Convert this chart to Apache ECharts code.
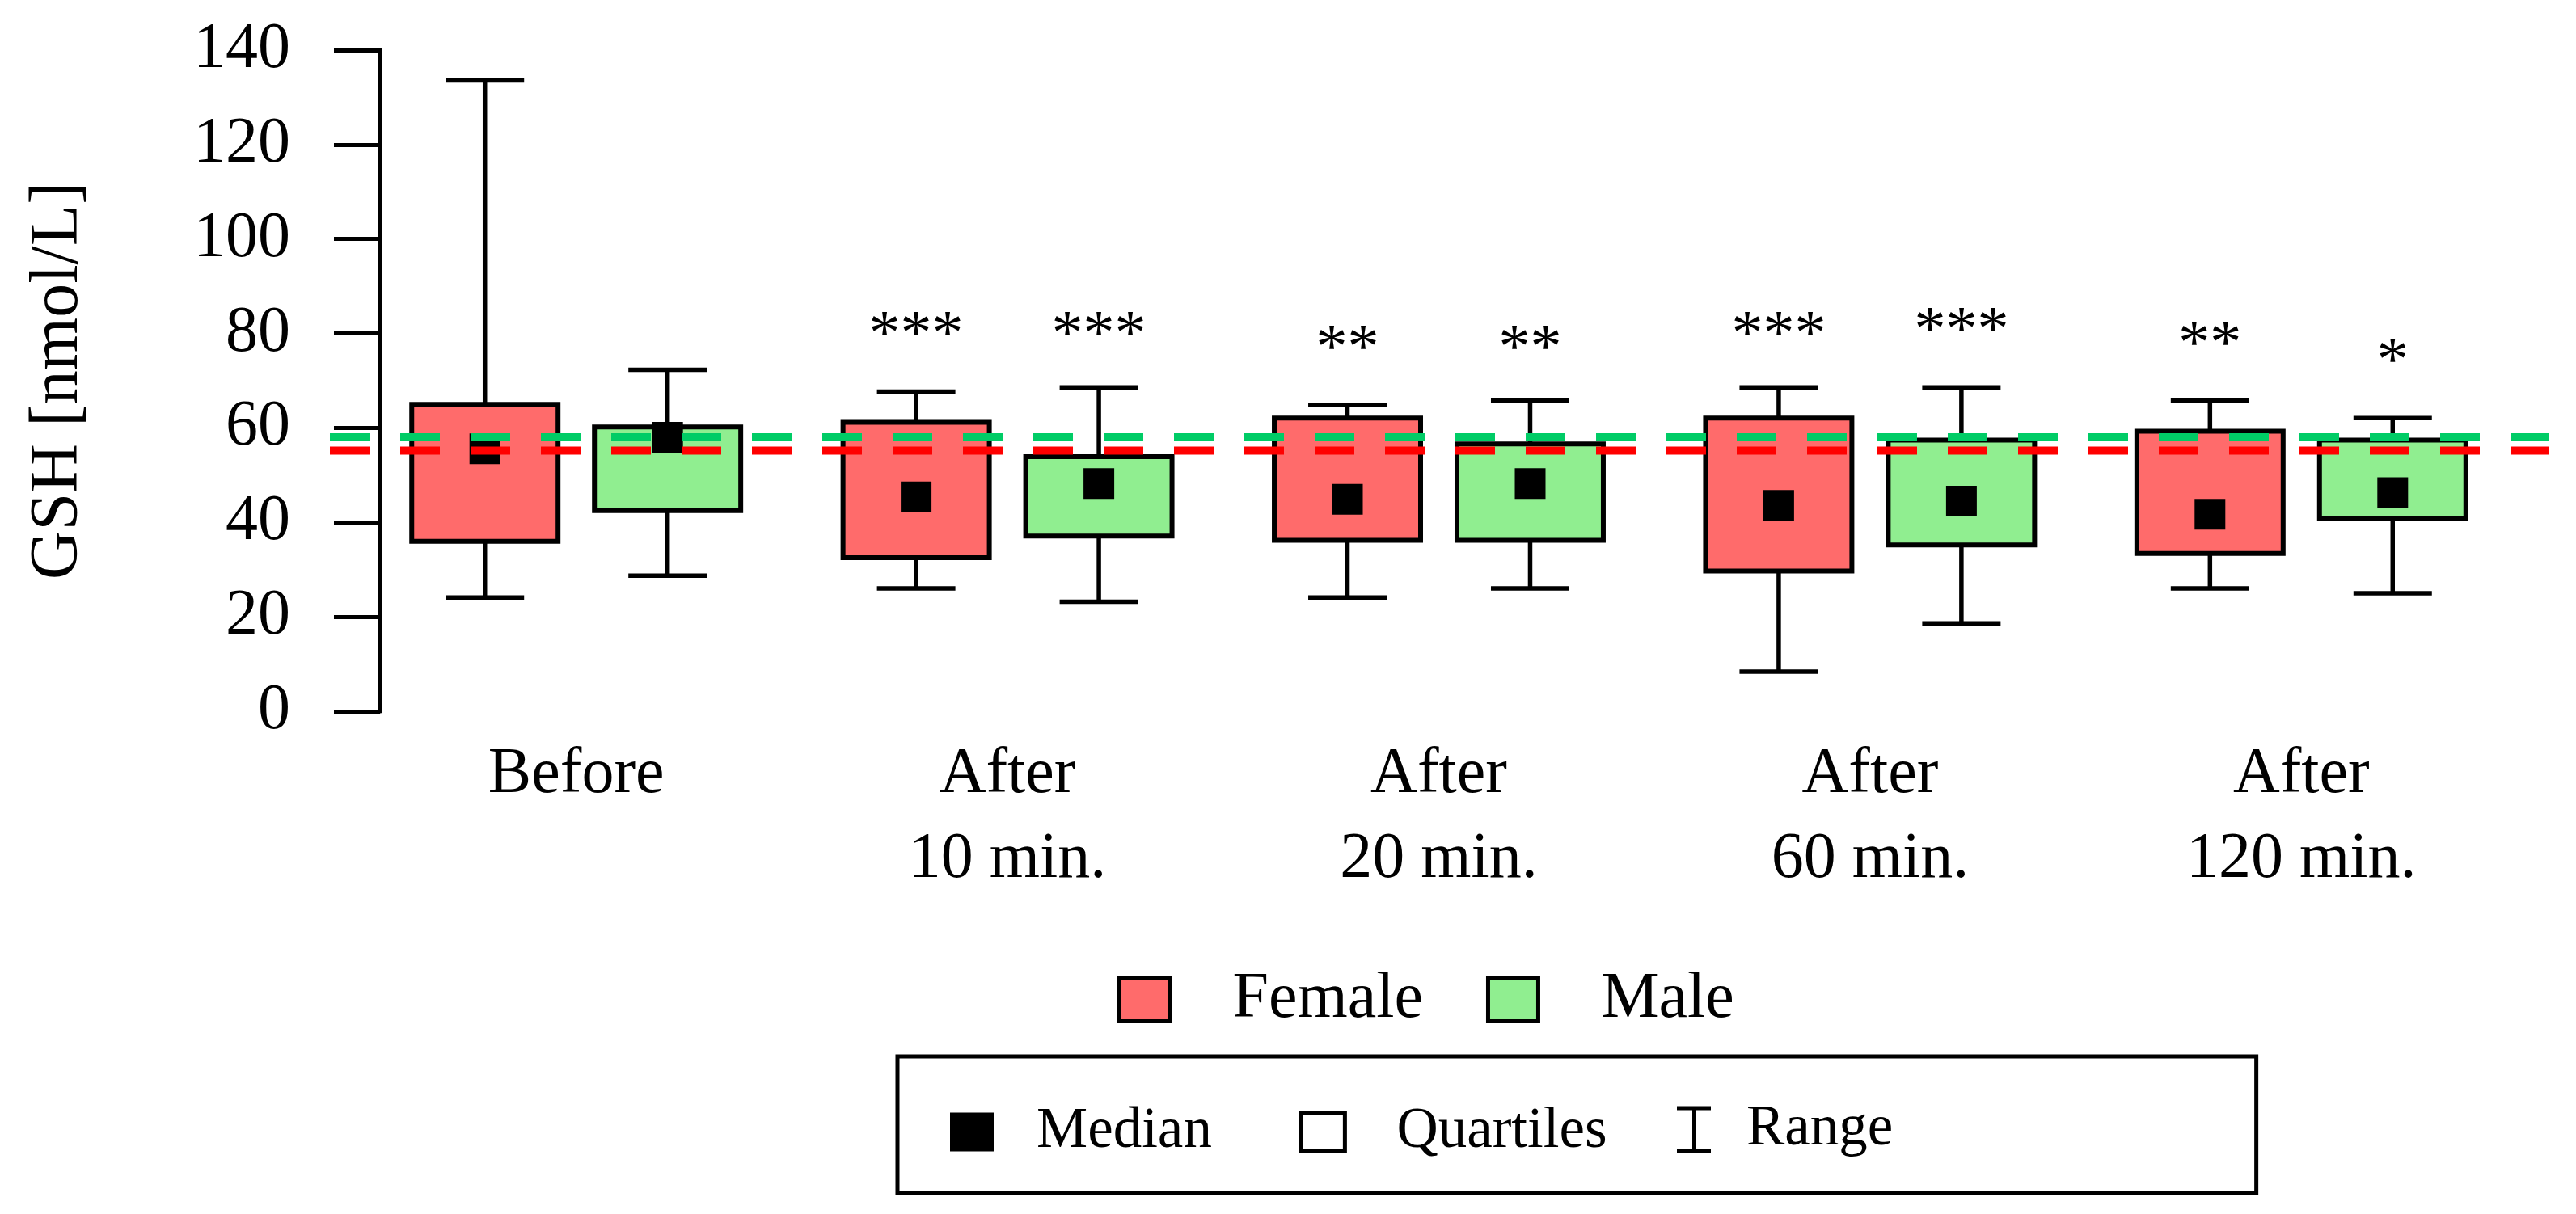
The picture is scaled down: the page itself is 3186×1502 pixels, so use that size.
<!DOCTYPE html>
<html><head><meta charset="utf-8">
<script src="https://cdn.jsdelivr.net/npm/echarts@6/dist/echarts.min.js"></script>
<style>html,body{margin:0;padding:0;background:#fff}#c{width:3186px;height:1502px}</style>
</head><body><div id="c"></div>
<script>
// ---- data ----
const categories = ['Before', 'After\n10 min.', 'After\n20 min.', 'After\n60 min.', 'After\n120 min.'];
const femaleMin    = [24.1, 26.0, 24.1,  8.4, 26.0];
const femaleQ1     = [36.0, 32.5, 36.2, 29.7, 33.4];
const femaleMedian = [55.6, 45.4, 44.9, 43.6, 41.7];
const femaleQ3     = [65.0, 61.2, 62.1, 62.1, 59.3];
const femaleMax    = [133.6, 67.7, 64.9, 68.6, 65.8];
const maleMin      = [28.7, 23.2, 26.0, 18.6, 25.0];
const maleQ1       = [42.5, 37.1, 36.2, 35.2, 40.8];
const maleMedian   = [58.0, 48.2, 48.2, 44.5, 46.3];
const maleQ3       = [60.2, 53.9, 56.6, 57.4, 57.4];
const maleMax      = [72.3, 68.6, 65.8, 68.6, 62.1];
const femaleSig    = ['', '***', '**', '***', '**'];
const maleSig      = ['', '***', '**', '***', '*'];
const femaleSigY   = [0, 82.5, 79.7, 82.5, 80.6];
const maleSigY     = [0, 82.5, 79.7, 83.5, 77.0];
const femaleRef = 55.2;
const maleRef = 58.0;

// ---- styles ----
const FONT = "'Liberation Serif', 'Times New Roman', serif";
const FEMALE_COLOR = '#FF6B6B';
const MALE_COLOR = '#90EE90';
const OFFSET_FRAC = 113 / 533.5;
const BOX_FRAC = 181 / 533.5;
const CAP_FRAC = 97 / 533.5;

function boxSeries(name, color, mins, q1s, q3s, maxs, side) {
  return {
    type: 'custom', name: name, xAxisIndex: 0, yAxisIndex: 0, z: 2, silent: true,
    itemStyle: { color: color, borderColor: '#000', borderWidth: 5, opacity: 1 },
    data: categories.map((c, i) => [i, mins[i], q1s[i], q3s[i], maxs[i]]),
    encode: { x: 0, y: [1, 2, 3, 4] },
    renderItem: function (params, api) {
      const i = api.value(0);
      const band = api.size([1, 0])[0];
      const cx = api.coord([i, 0])[0] + side * band * OFFSET_FRAC;
      const bw = band * BOX_FRAC, cw = band * CAP_FRAC;
      const yMin = api.coord([i, api.value(1)])[1];
      const yQ1 = api.coord([i, api.value(2)])[1];
      const yQ3 = api.coord([i, api.value(3)])[1];
      const yMax = api.coord([i, api.value(4)])[1];
      const ls = { stroke: '#000', lineWidth: 5.5 };
      return { type: 'group', children: [
        { type: 'line', shape: { x1: cx, y1: yMax, x2: cx, y2: yQ3 }, style: ls },
        { type: 'line', shape: { x1: cx, y1: yQ1, x2: cx, y2: yMin }, style: ls },
        { type: 'line', shape: { x1: cx - cw / 2, y1: yMax, x2: cx + cw / 2, y2: yMax }, style: ls },
        { type: 'line', shape: { x1: cx - cw / 2, y1: yMin, x2: cx + cw / 2, y2: yMin }, style: ls },
        { type: 'rect', shape: { x: cx - bw / 2, y: yQ3, width: bw, height: yQ1 - yQ3 },
          style: { fill: color, stroke: '#000', lineWidth: 6 } }
      ]};
    }
  };
}

function sigSeries(sig, sigY, side) {
  return {
    type: 'custom', name: 'sig' + side, xAxisIndex: 0, yAxisIndex: 0, z: 6, silent: true,
    data: categories.map((c, i) => [i, sigY[i]]),
    encode: { x: 0, y: 1 },
    renderItem: function (params, api) {
      const i = api.value(0);
      if (!sig[i]) return null;
      const band = api.size([1, 0])[0];
      const p = api.coord([i, api.value(1)]);
      return { type: 'text', x: p[0] + side * band * OFFSET_FRAC, y: p[1] + 19,
        style: { text: sig[i], fill: '#000', font: '78px ' + FONT, align: 'center', verticalAlign: 'middle' } };
    }
  };
}

function medianSeries(vals, side) {
  return {
    type: 'scatter', name: 'Median', xAxisIndex: 0, yAxisIndex: 0, z: 5, silent: true,
    data: vals.map((v, i) => [i, v]),
    symbol: 'rect', symbolSize: 38, symbolOffset: [side * 113, 0],
    itemStyle: { color: '#000', opacity: 1 }
  };
}

function refLine(val, color) {
  return {
    type: 'line', xAxisIndex: 1, yAxisIndex: 1, z: 10, silent: true,
    data: [[0, val], [1, val]], symbol: 'none',
    lineStyle: { color: color, width: 10, type: [49, 38], opacity: 1 }
  };
}

const chart = echarts.init(document.getElementById('c'));
chart.setOption({
  animation: false,
  backgroundColor: '#fff',
  textStyle: { fontFamily: FONT },
  grid: [
    { left: 446, top: 62, width: 2667, height: 818, outerBoundsMode: 'none', containLabel: false },
    { left: 408, top: 62, width: 2745, height: 818, outerBoundsMode: 'none', containLabel: false }
  ],
  xAxis: [
    { type: 'category', gridIndex: 0, data: categories,
      axisLine: { show: false }, axisTick: { show: false }, splitLine: { show: false },
      axisLabel: { interval: 0, margin: 26, fontSize: 80, lineHeight: 105, color: '#000', fontFamily: FONT } },
    { type: 'value', gridIndex: 1, min: 0, max: 1, show: false }
  ],
  yAxis: [
    { type: 'value', gridIndex: 0, min: 0, max: 140, interval: 20, offset: -24,
      name: 'GSH [nmol/L]', nameLocation: 'middle', nameGap: 355,
      nameTextStyle: { fontSize: 84, color: '#000', fontFamily: FONT },
      axisLine: { show: true, lineStyle: { color: '#000', width: 5 } },
      axisTick: { show: true, length: 57, lineStyle: { color: '#000', width: 5 } },
      splitLine: { show: false },
      axisLabel: { margin: 111, fontSize: 80, color: '#000', fontFamily: FONT } },
    { type: 'value', gridIndex: 1, min: 0, max: 140, show: false }
  ],
  legend: [
    { left: 1382, top: 1197, orient: 'horizontal', selectedMode: false,
      itemWidth: 62, itemHeight: 53, itemGap: 78, padding: 0,
      textStyle: { fontSize: 80, color: '#000', fontFamily: FONT, padding: [0, 0, 0, 73] },
      data: [
        { name: 'Female', icon: 'rect', itemStyle: { color: FEMALE_COLOR, borderColor: '#000', borderWidth: 5, opacity: 1 } },
        { name: 'Male', icon: 'rect', itemStyle: { color: MALE_COLOR, borderColor: '#000', borderWidth: 5, opacity: 1 } }
      ] },
    { left: 1110, top: 1307, orient: 'horizontal', selectedMode: false, z: 4,
      itemWidth: 54, itemHeight: 48, itemGap: 82, padding: [58, 803, 40, 65],
      borderColor: '#000', borderWidth: 5, backgroundColor: '#fff',
      textStyle: { fontSize: 71, lineHeight: 48, color: '#000', fontFamily: FONT },
      data: [
        { name: 'Median', icon: 'rect', itemStyle: { color: '#000', borderWidth: 0, opacity: 1 },
          textStyle: { padding: [0, 26, 0, 48] } },
        { name: 'Quartiles', icon: 'rect', itemStyle: { color: '#fff', borderColor: '#000', borderWidth: 5, opacity: 1 },
          textStyle: { padding: [0, 0, 0, 59] } }
      ] },
    { left: 2074, top: 1362, orient: 'horizontal', selectedMode: false, z: 6,
      itemWidth: 42, itemHeight: 58, padding: 0,
      textStyle: { fontSize: 71, lineHeight: 58, color: '#000', fontFamily: FONT, padding: [0, 0, 0, 39] },
      data: [
        { name: 'Range', icon: 'path://M0,0H42V5H23V53H42V58H0V53H19V5H0Z', itemStyle: { color: '#000', borderWidth: 0, opacity: 1 } }
      ] }
  ],
  series: [
    boxSeries('Female', FEMALE_COLOR, femaleMin, femaleQ1, femaleQ3, femaleMax, -1),
    boxSeries('Male', MALE_COLOR, maleMin, maleQ1, maleQ3, maleMax, 1),
    medianSeries(femaleMedian, -1),
    medianSeries(maleMedian, 1),
    sigSeries(femaleSig, femaleSigY, -1),
    sigSeries(maleSig, maleSigY, 1),
    refLine(femaleRef, '#FF0000'),
    refLine(maleRef, '#00CC66'),
    { type: 'scatter', name: 'Quartiles', data: [], xAxisIndex: 0, yAxisIndex: 0 },
    { type: 'scatter', name: 'Range', data: [], xAxisIndex: 0, yAxisIndex: 0, symbolKeepAspect: true }
  ]
});
</script></body></html>
